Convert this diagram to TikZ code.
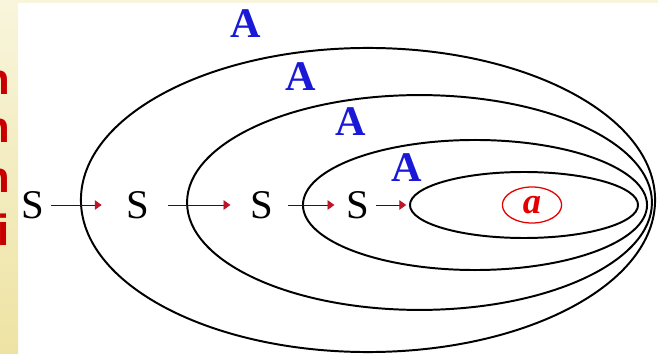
\documentclass[tikz,border=0pt]{standalone}
\usepackage{fontspec}
\setmainfont{Liberation Serif}
\newfontfamily\cutsans{Liberation Sans}
\usetikzlibrary{arrows.meta,positioning,shapes.geometric}
\definecolor{cutred}{RGB}{200,0,0}
\definecolor{ntblue}{RGB}{25,25,215}
\definecolor{tipred}{RGB}{190,20,40}
\definecolor{creamtop}{RGB}{248,245,220}
\definecolor{creambot}{RGB}{238,227,163}
\tikzset{
  lang/.style={ellipse,draw,line width=1.4pt,inner sep=0pt},
  sym/.style={font=\fontsize{29}{29}\selectfont,inner sep=0pt},
  nterm/.style={font=\fontsize{30}{30}\selectfont\bfseries,text=ntblue,inner sep=0pt},
  word/.style={ellipse,draw=red!90!black,line width=0.9pt,text=red!90!black,inner sep=0pt,
    font=\fontsize{26}{26}\selectfont\bfseries\itshape},
  derive/.style={line width=0.6pt,draw=black!60!tipred,
    -{Triangle[length=1.7mm,width=2.4mm,color=tipred]}},
  cut/.style={font=\cutsans\bfseries\fontsize{31}{31}\selectfont,text=cutred,inner sep=0pt,anchor=base east},
}
\begin{document}
\begin{tikzpicture}[x=0.025cm,y=-0.025cm]
  \useasboundingbox (0,0) rectangle (658,354);
  \fill[white] (0,0) rectangle (658,354);
  \fill[creamtop] (18,0) rectangle (658,3);
  \shade[top color=creamtop,bottom color=creambot] (0,0) rectangle (18,354);
  % cut-off text at the left
  \node[cut] (c1) at (10,95) {n};
  \node[cut] (c2) at (10,143) {n};
  \node[cut] (c3) at (10,193) {n};
  \node[cut] (c4) at (10,245) {i};
  % nested sets
  \node[lang,minimum width=14.35cm,minimum height=7.6cm] (e1) at (368,200) {};
  \node[lang,minimum width=11.62cm,minimum height=5.37cm] (e2) at (419.5,202.5) {};
  \node[lang,minimum width=8.6cm,minimum height=3.25cm] (e3) at (475,205) {};
  \node[lang,minimum width=5.7cm,minimum height=1.65cm] (e4) at (524,205) {};
  \node[word,minimum width=1.48cm,minimum height=0.9cm] (a) at (532,205) {a};
  % derivation chain
  \node[sym] (s1) at (33,205) {S};
  \node[sym] (s2) at (138,205) {S};
  \node[sym] (s3) at (262,205) {S};
  \node[sym] (s4) at (358,205) {S};
  \draw[derive,shorten <=0.17cm,shorten >=0.62cm] (s1) -- (s2);
  \draw[derive,shorten <=0.47cm,shorten >=0.5cm] (s2) -- (s3);
  \draw[derive,shorten <=0.37cm,shorten >=0.3cm] (s3) -- (s4);
  \draw[derive,shorten <=0.17cm,shorten >=0.07cm] (s4) -- (e4.west);
  \node[nterm] (a1) at (246,24) {A};
  \node[nterm] (a2) at (301,77) {A};
  \node[nterm] (a3) at (351,122) {A};
  \node[nterm] (a4) at (407,168) {A};
\end{tikzpicture}
\end{document}
